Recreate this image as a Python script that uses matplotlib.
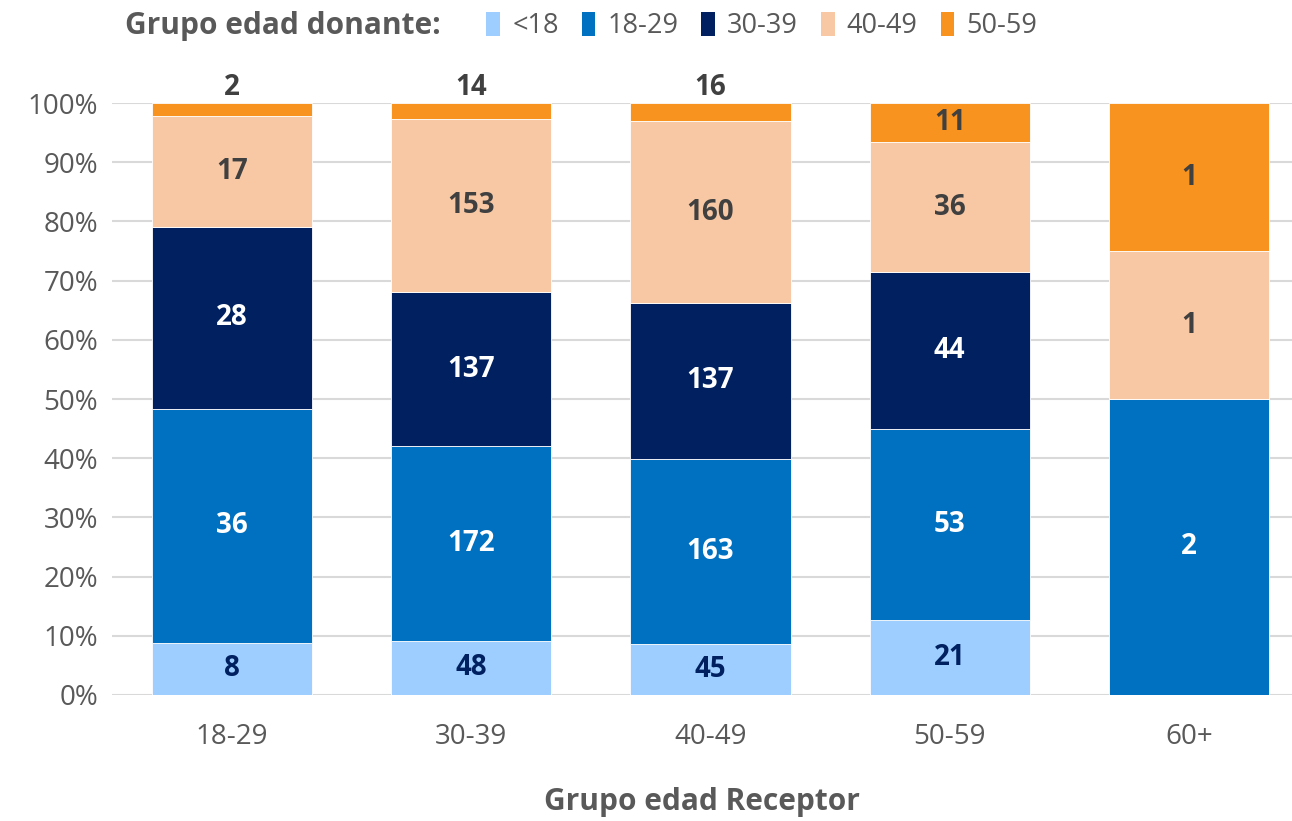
import matplotlib.pyplot as plt
import numpy as np
from matplotlib.patches import Patch

plt.rcParams['font.family'] = ['Open Sans', 'DejaVu Sans']

receptor = ['18-29', '30-39', '40-49', '50-59', '60+']
donante = ['<18', '18-29', '30-39', '40-49', '50-59']
v_lt18 = [8, 48, 45, 21, 0]
v_1829 = [36, 172, 163, 53, 2]
v_3039 = [28, 137, 137, 44, 0]
v_4049 = [17, 153, 160, 36, 1]
v_5059 = [2, 14, 16, 11, 1]

colors = ['#9DCEFF', '#0070C0', '#002060', '#F8C8A4', '#F7931E']
label_colors = ['#002060', 'white', 'white', '#404040', '#404040']
gray = '#595959'

series = np.array([v_lt18, v_1829, v_3039, v_4049, v_5059], dtype=float)
totals = series.sum(axis=0)
frac = series / totals

fig = plt.figure(figsize=(12.92, 8.21), dpi=100)
ax = fig.add_axes([0.0867, 0.1535, 0.9133, 0.721])

x = np.arange(len(receptor))
bottom = np.zeros(len(receptor))
for i in range(len(donante)):
    ax.bar(x, frac[i], 0.67, bottom=bottom, color=colors[i],
           edgecolor='white', linewidth=0.6, zorder=3)
    for j in range(len(receptor)):
        v = series[i][j]
        if v == 0:
            continue
        if frac[i][j] < 0.05:
            ax.text(x[j], 1.027, '%d' % v, ha='center', va='center',
                    fontsize=20, fontweight='bold', color='#404040')
        else:
            ax.text(x[j], bottom[j] + frac[i][j] / 2, '%d' % v,
                    ha='center', va='center', fontsize=20,
                    fontweight='bold', color=label_colors[i])
    bottom += frac[i]

ax.set_xlim(-0.5, 4.43)
ax.set_ylim(0, 1.0)
ax.set_yticks(np.arange(0, 1.01, 0.1))
ax.set_yticklabels(['%d%%' % (t * 100) for t in np.arange(0, 1.01, 0.1).round(1)])
ax.set_xticks(x)
ax.set_xticklabels(receptor)
ax.tick_params(axis='both', length=0, labelsize=20, colors=gray)
ax.tick_params(axis='x', pad=20)
ax.tick_params(axis='y', pad=10)
ax.yaxis.grid(True, color='#D9D9D9', linewidth=1.5, zorder=0)
ax.set_axisbelow(True)
for s in ax.spines.values():
    s.set_visible(False)
ax.set_xlabel('Grupo edad Receptor', fontsize=21.5, fontweight='bold',
              color=gray, labelpad=26)

fig.text(0.097, 0.968, 'Grupo edad donante:', fontsize=21.5, fontweight='bold',
         color=gray, ha='left', va='center')
handles = [Patch(facecolor=c) for c in colors]
leg = fig.legend(handles, donante, loc='center left',
                 bbox_to_anchor=(0.366, 0.968), ncol=5, frameon=False,
                 fontsize=19.5, handlelength=0.5, handleheight=1.0,
                 handletextpad=0.45, columnspacing=0.85, borderpad=0)
for t in leg.get_texts():
    t.set_color(gray)

fig.savefig('out.png', dpi=100)
